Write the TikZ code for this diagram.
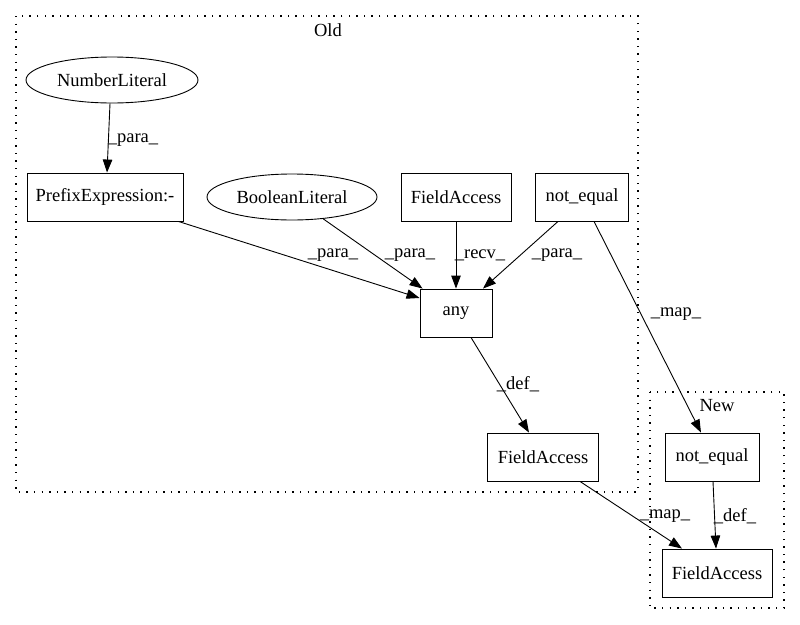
\documentclass[tikz,border=0pt]{standalone}
\usepackage{fontspec}
\setmainfont{Liberation Serif}
\usetikzlibrary{shapes.geometric,arrows.meta}
\begin{document}
\begin{tikzpicture}[x=1pt,y=-1pt,
  every node/.style={font=\fontsize{18.5}{22}\selectfont},
  boxnode/.style={draw,line width=0.9pt,rectangle,inner sep=0pt,minimum height=48pt},
  ellnode/.style={draw,line width=0.9pt,ellipse,inner sep=0pt,minimum height=46pt},
  cluster/.style={draw,line width=1.4pt,dash pattern=on 1.4pt off 6.2pt},
  edge/.style={line width=0.9pt,-{Triangle[length=13pt,width=9.5pt]}},
  lbl/.style={inner sep=0pt,fill=none}]
\useasboundingbox (0,0) rectangle (800,624);
% clusters
\draw[cluster] (16,16) rectangle (638,492);
\node[lbl] (oldlbl) at (328,30) {Old};
\draw[cluster] (650,392) rectangle (784,608);
\node[lbl] (newlbl) at (717,406) {New};
% nodes
\node[ellnode,minimum width=172pt] (numlit) at (112,80) {NumberLiteral};
\node[boxnode,minimum width=156pt] (prefix) at (105,197) {PrefixExpression:-};
\node[ellnode,minimum width=170pt] (boollit) at (292,197) {BooleanLiteral};
\node[boxnode,minimum width=110pt] (fa1) at (456,197) {FieldAccess};
\node[boxnode,minimum width=93pt] (ne1) at (582,197) {not\_equal};
\node[boxnode,minimum width=72pt] (any) at (456,313) {any};
\node[boxnode,minimum width=111pt] (fa2) at (543,457) {FieldAccess};
\node[boxnode,minimum width=94pt] (ne2) at (712,457) {not\_equal};
\node[boxnode,minimum width=110pt] (fa3) at (717,573) {FieldAccess};
% edges
\draw[edge] ([xshift=-2pt]numlit.south) -- ([xshift=2pt]prefix.north);
\draw[edge] ([xshift=-5pt]prefix.south east) -- ([yshift=15pt]any.west);
\draw[edge] (boollit.-35) -- ([xshift=3pt]any.north west);
\draw[edge] (fa1.south) -- (any.north);
\draw[edge] ([xshift=-24pt]ne1.south) -- ([xshift=27pt]any.north);
\draw[edge] ([xshift=12pt]ne1.south) -- ([xshift=-11pt]ne2.north);
\draw[edge] ([xshift=15pt]any.south) -- ([xshift=-14pt]fa2.north);
\draw[edge] ([xshift=37pt]fa2.south) -- ([xshift=-35pt]fa3.north);
\draw[edge] ([xshift=1pt]ne2.south) -- ([xshift=-1pt]fa3.north);
% labels
\node[lbl] (l1) at (133,140) {\_para\_};
\node[lbl] (l2) at (333,255) {\_para\_};
\node[lbl] (l3) at (410,255) {\_para\_};
\node[lbl] (l4) at (480,255) {\_recv\_};
\node[lbl] (l5) at (557,255) {\_para\_};
\node[lbl] (l6) at (676,314) {\_map\_};
\node[lbl] (l7) at (518,384) {\_def\_};
\node[lbl] (l8) at (665,516) {\_map\_};
\node[lbl] (l9) at (735,516) {\_def\_};
\end{tikzpicture}
\end{document}
